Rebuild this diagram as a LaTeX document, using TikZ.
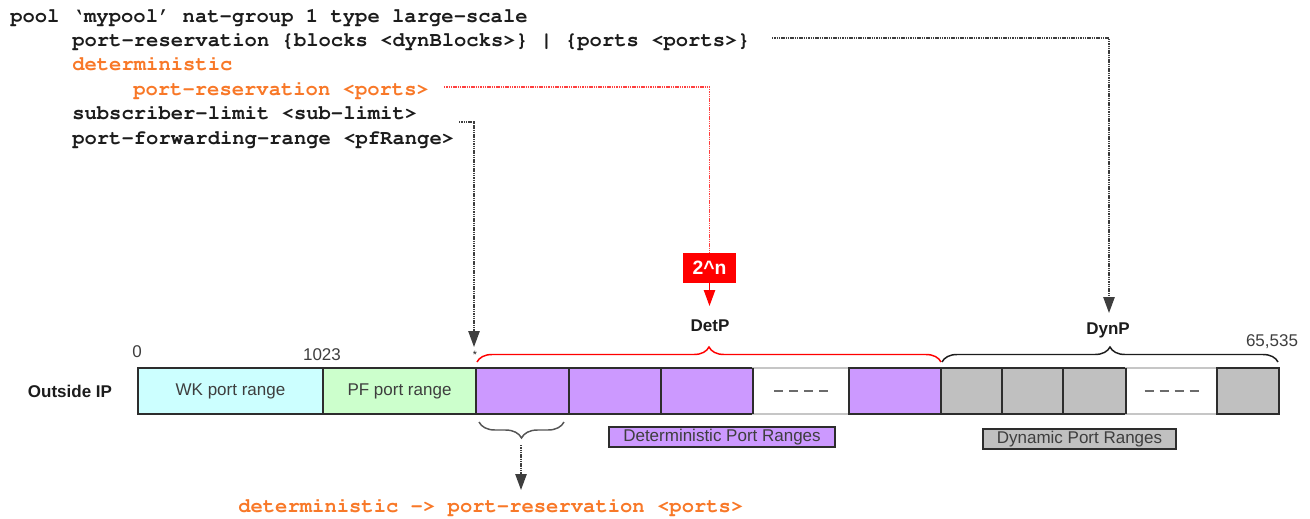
\documentclass[tikz,border=0pt]{standalone}
\usepackage[T1]{fontenc}
\usepackage{fontspec}
\setsansfont{Liberation Sans}
\setmonofont{Liberation Mono}
\usetikzlibrary{arrows.meta,calc,decorations.pathreplacing}

\newdimen\px \px=0.75pt
% bold Courier for the command syntax
\newcommand{\cmdfont}{\fontencoding{T1}\fontfamily{pcr}\fontseries{b}\fontshape{n}\fontsize{15.4}{18}\selectfont}

\definecolor{wkcyan}{RGB}{204,255,255}
\definecolor{pfgreen}{RGB}{204,255,204}
\definecolor{detpurple}{RGB}{204,153,255}
\definecolor{dyngray}{RGB}{192,192,192}
\definecolor{cmdorange}{RGB}{248,120,40}
\definecolor{ink}{RGB}{28,28,28}
\definecolor{edge}{RGB}{45,45,45}

\tikzset{
  codeline/.style={anchor=base west, inner sep=0pt, text=ink, font=\cmdfont},
  plainlbl/.style={inner sep=0pt, text=ink!85,
    font=\sffamily\fontsize{12.75}{15}\selectfont},
  boldlbl/.style={inner sep=0pt, text=ink,
    font=\sffamily\bfseries\fontsize{12.75}{15}\selectfont},
  cell/.style={draw=edge, line width=1.1pt, inner sep=0pt, outer sep=0pt,
    minimum height=46*\px, anchor=north west, text=ink!85,
    font=\sffamily\fontsize{12.75}{15}\selectfont},
  blankcell/.style={cell, draw=gray!45, fill=white},
  rangebox/.style={draw=edge, line width=1.1pt, inner sep=0pt,
    minimum height=20*\px, text=ink!85,
    font=\sffamily\fontsize{12.75}{15}\selectfont},
  powbox/.style={fill=red, inner sep=0pt, minimum width=53*\px,
    minimum height=30*\px, text=white,
    font=\sffamily\bfseries\fontsize{14.5}{17}\selectfont},
  dotline/.style={line width=1.2pt, dash pattern=on 1.1pt off 0.6pt},
  tipped/.style={-{Triangle[length=12pt,width=8.5pt]}},
  gapdash/.style={draw=ink!65, line width=1.4pt, dash pattern=on 6.75pt off 4.5pt},
  bracebar/.style={decorate, line width=1.1pt},
}

\begin{document}
\begin{tikzpicture}[x=0.75pt, y=-0.75pt]
\useasboundingbox (0,0) rectangle (1310,518);

% configuration lines
\node[codeline] (l1) at (10,22)    {pool `mypool' nat-group 1 type large-scale};
\node[codeline] (l2) at (72,46.4)  {port-reservation \{blocks <dynBlocks>\} | \{ports <ports>\}};
\node[codeline, text=cmdorange] (l3) at (72,70.8)  {deterministic};
\node[codeline, text=cmdorange] (l4) at (133,95.2) {port-reservation <ports>};
\node[codeline] (l5) at (72,119.6) {subscriber-limit <sub-limit>};
\node[codeline] (l6) at (72,144)   {port-forwarding-range <pfRange>};

% port bar of the outside address
\node[boldlbl] (oip) at (70,391) {Outside IP};
\node[cell, fill=wkcyan,  minimum width=185*\px] (wk) at (138,368) {WK port range};
\node[cell, fill=pfgreen, minimum width=153*\px] (pf) at (wk.north east) {PF port range};
\node[cell, fill=detpurple, minimum width=93*\px] (p1) at (pf.north east) {};
\node[cell, fill=detpurple, minimum width=92*\px] (p2) at (p1.north east) {};
\node[cell, fill=detpurple, minimum width=92*\px] (p3) at (p2.north east) {};
\node[blankcell, minimum width=96*\px] (w1) at (p3.north east) {};
\node[cell, fill=detpurple, minimum width=92*\px] (p4) at (w1.north east) {};
\node[cell, fill=dyngray, minimum width=61*\px] (g1) at (p4.north east) {};
\node[cell, fill=dyngray, minimum width=61*\px] (g2) at (g1.north east) {};
\node[cell, fill=dyngray, minimum width=63*\px] (g3) at (g2.north east) {};
\node[blankcell, minimum width=91*\px] (w2) at (g3.north east) {};
\node[cell, fill=dyngray, minimum width=62*\px] (g4) at (w2.north east) {};
% redraw the outline of the blank cells' neighbours on top
\draw[edge, line width=1.1pt] (p3.north east) -- (p3.south east);
\draw[edge, line width=1.1pt] (p4.north west) -- (p4.south west);
\draw[edge, line width=1.1pt] (g3.north east) -- (g3.south east);
\draw[edge, line width=1.1pt] (g4.north west) -- (g4.south west);

% gaps in the ranges
\draw[gapdash] ($(w1.center)+(-27,0)$) -- ($(w1.center)+(27,0)$);
\draw[gapdash] ($(w2.center)+(-27,0)$) -- ($(w2.center)+(27,0)$);

% port numbers
\node[plainlbl] (n0) at (137,352) {0};
\node[plainlbl] (n1023) at (322,355) {1023};
\node[plainlbl] (nmax) at (1272,342) {65,535};

% braces over the deterministic and dynamic parts
\draw[bracebar, red, decoration={brace, amplitude=11.25pt}]
  ($(p1.north west)+(1,-6)$) -- ($(p4.north east)+(0,-6)$);
\draw[bracebar, ink, decoration={brace, amplitude=11.25pt}]
  ($(g1.north west)+(1,-6)$) -- ($(g4.north east)+(-1,-6)$);
\draw[bracebar, ink!75, decoration={brace, amplitude=12pt}]
  ($(p1.south east)+(-5,8)$) -- ($(p1.south west)+(3,8)$);

\node[boldlbl] (detp) at (710,326) {DetP};
\node[boldlbl] (dynp) at (1108,330) {DynP};

% range legends
\node[rangebox, fill=detpurple, minimum width=226*\px] (detlbl) at (722,437) {Deterministic Port Ranges};
\node[rangebox, fill=dyngray, minimum width=193*\px] (dynlbl) at (1079.5,439) {Dynamic Port Ranges};

% connectors from the configuration
\coordinate (dynsrc) at (772,38);
\coordinate (dyntip) at (1109,313);
\draw[dotline, ink!85, tipped] (dynsrc) -| (dyntip);

\coordinate (detsrc) at (444,87);
\node[powbox] (pow) at (709.5,268) {2\textasciicircum n};
\draw[dotline, red!75] (detsrc) -| (pow.north);
\coordinate (dettip) at (709.5,306);
\draw[red, line width=1pt, tipped] (pow.south) -- (dettip);

\coordinate (pfsrc) at (459,122);
\coordinate (pftip) at (474,347);
\draw[dotline, ink!85, tipped] (pfsrc) -| (pftip);
\node[inner sep=0pt, text=ink, font=\sffamily\fontsize{8}{9}\selectfont] (star) at (475,355) {*};

% per-subscriber block
\coordinate (blksrc) at (521,445);
\coordinate (blktip) at (521,490);
\draw[dotline, ink!85, tipped] (blksrc) -- (blktip);
\node[codeline, text=cmdorange] (cmd) at (238,512) {deterministic -> port-reservation <ports>};
\end{tikzpicture}
\end{document}
